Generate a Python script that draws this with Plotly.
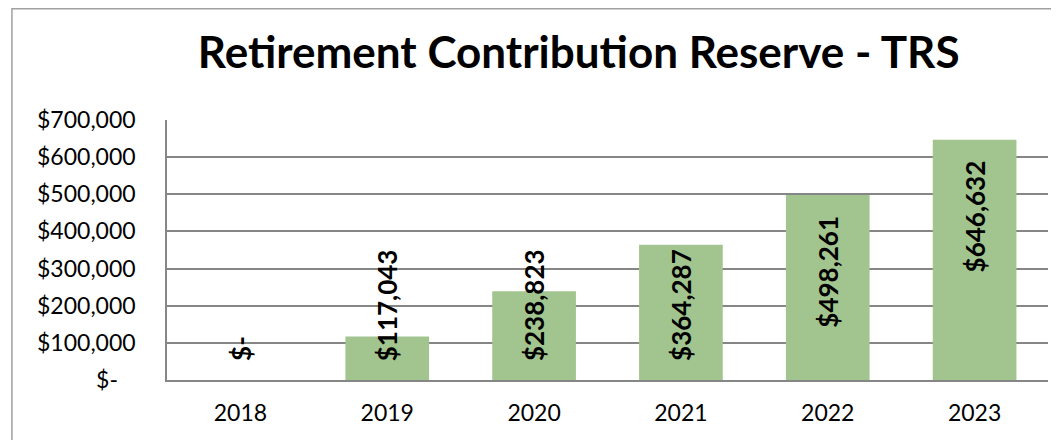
import plotly.graph_objects as go

years = ["2018", "2019", "2020", "2021", "2022", "2023"]
reserve = [0, 117043, 238823, 364287, 498261, 646632]
labels = ["$-", "$117,043", "$238,823", "$364,287", "$498,261", "$646,632"]

y_ticks = [0, 100000, 200000, 300000, 400000, 500000, 600000, 700000]
y_tick_text = ["$-\u00a0\u00a0\u00a0", "$100,000", "$200,000", "$300,000", "$400,000",
               "$500,000", "$600,000", "$700,000"]

FONT = "Lato"

fig = go.Figure()
fig.add_trace(go.Bar(x=years, y=reserve, marker=dict(color="#A2C58F", line=dict(width=0)),
                     hoverinfo="x+y"))

# data labels: inside end when the bar is tall enough for the text,
# otherwise Excel pins them just above the baseline
# (category index used for x so "2018" isn't read as a number)
for i, (val, lab) in enumerate(zip(reserve, labels)):
    if val > 420000:
        fig.add_annotation(x=i, y=val, text=lab, textangle=-90, showarrow=False,
                           yanchor="top", yshift=-19,
                           font=dict(family=FONT, size=26, color="black", weight="bold"))
    else:
        fig.add_annotation(x=i, y=0, text=lab, textangle=-90, showarrow=False,
                           yanchor="bottom", yshift=17,
                           font=dict(family=FONT, size=26, color="black", weight="bold"))

# outer chart frame (right and bottom edges fall outside the window)
fig.add_shape(type="rect", xref="paper", yref="paper", x0=-0.176, x1=1.05, y0=-0.3, y1=1.428,
              line=dict(color="#A0A0A0", width=1.5), fillcolor="rgba(0,0,0,0)")

# page body has an 8px margin, so the figure is 8px smaller than the window
fig.update_layout(
    width=1051,
    height=432,
    margin=dict(l=159, r=11, t=112, b=60),
    paper_bgcolor="white",
    plot_bgcolor="white",
    showlegend=False,
    bargap=0.43,
    title=dict(text="<b>Retirement Contribution Reserve - TRS</b>", x=0.543, xanchor="center",
               y=0.896, yanchor="middle", font=dict(family=FONT, size=44, color="black")),
    font=dict(family=FONT, color="black"),
    xaxis=dict(type="category", showgrid=False, showline=True, linecolor="#868686", linewidth=1.5,
               ticks="", tickfont=dict(size=23, color="black"), ticklabelstandoff=12,
               automargin=False),
    yaxis=dict(range=[0, 700000], tickvals=y_ticks, ticktext=y_tick_text, showgrid=True,
               gridcolor="#868686", gridwidth=1.5, showline=True, linecolor="#868686", linewidth=1.5,
               ticks="", tickfont=dict(size=23, color="black"), ticklabelstandoff=25, zeroline=False,
               automargin=False),
)

fig.write_html("out.html")
